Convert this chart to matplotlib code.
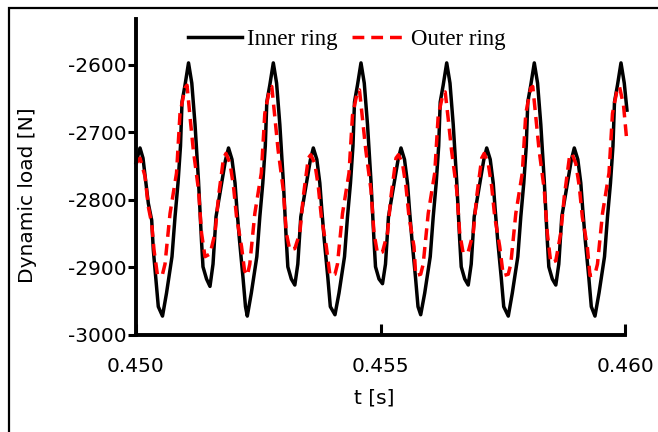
import matplotlib
matplotlib.use("Agg")
import matplotlib.pyplot as plt
from matplotlib.patches import Rectangle

plt.rcParams["font.family"] = "DejaVu Sans"
plt.rcParams["axes.unicode_minus"] = False

# Time stamps in ms after t = 0.450 s, and dynamic load in N
inner_ms = [
    0.000, 0.082, 0.143, 0.204, 0.252, 0.321, 0.354, 0.409, 0.456,
    0.542, 0.624, 0.736, 0.798, 0.859, 0.910, 0.941, 1.002, 1.074, 1.141, 1.207, 1.278, 1.339, 1.370,
    1.442, 1.513, 1.575, 1.636, 1.728, 1.830, 1.892, 1.963, 2.025, 2.065, 2.117, 2.188, 2.239,
    2.276, 2.358, 2.471, 2.532, 2.593, 2.644, 2.675, 2.736, 2.808, 2.875, 2.941, 3.012, 3.074, 3.105,
    3.176, 3.248, 3.309, 3.370, 3.462, 3.565, 3.626, 3.698, 3.759, 3.800, 3.851, 3.923, 3.974,
    4.069, 4.151, 4.264, 4.325, 4.386, 4.437, 4.468, 4.529, 4.601, 4.668, 4.734, 4.805, 4.867, 4.898,
    4.969, 5.041, 5.102, 5.163, 5.255, 5.358, 5.419, 5.491, 5.552, 5.593, 5.644, 5.716, 5.767,
    5.822, 5.904, 6.017, 6.078, 6.139, 6.190, 6.221, 6.282, 6.354, 6.421, 6.487, 6.558, 6.620, 6.651,
    6.722, 6.794, 6.855, 6.916, 7.008, 7.111, 7.172, 7.244, 7.305, 7.346, 7.397, 7.469, 7.520,
    7.613, 7.695, 7.808, 7.869, 7.930, 7.981, 8.012, 8.073, 8.145, 8.212, 8.278, 8.349, 8.411, 8.442,
    8.513, 8.585, 8.646, 8.707, 8.799, 8.902, 8.963, 9.035, 9.096, 9.137, 9.188, 9.260, 9.311,
    9.386, 9.468, 9.581, 9.642, 9.703, 9.754, 9.785, 9.846, 9.918, 9.985, 10.040,
]
inner_load = [
    -2745, -2723, -2738, -2775, -2805, -2830, -2874, -2919, -2958,
    -2972, -2938, -2884, -2825, -2775, -2720, -2655, -2630, -2597, -2627, -2688, -2772, -2860, -2899,
    -2917, -2928, -2895, -2825, -2785, -2741, -2723, -2740, -2775, -2815, -2860, -2915, -2958,
    -2972, -2938, -2884, -2825, -2775, -2720, -2655, -2630, -2597, -2627, -2688, -2772, -2860, -2899,
    -2917, -2926, -2895, -2825, -2785, -2741, -2723, -2740, -2775, -2815, -2860, -2915, -2958,
    -2970, -2938, -2884, -2825, -2775, -2720, -2655, -2630, -2597, -2627, -2688, -2772, -2860, -2899,
    -2917, -2924, -2895, -2825, -2785, -2741, -2723, -2740, -2775, -2815, -2860, -2915, -2958,
    -2970, -2938, -2884, -2825, -2775, -2720, -2655, -2630, -2597, -2627, -2688, -2772, -2860, -2899,
    -2917, -2926, -2895, -2825, -2785, -2741, -2723, -2740, -2775, -2815, -2860, -2915, -2958,
    -2972, -2938, -2884, -2825, -2775, -2720, -2655, -2630, -2597, -2627, -2688, -2772, -2860, -2899,
    -2917, -2926, -2895, -2825, -2785, -2741, -2723, -2740, -2775, -2815, -2860, -2915, -2958,
    -2972, -2938, -2884, -2825, -2775, -2720, -2655, -2630, -2597, -2627, -2667,
]

outer_ms = [
    0.000, 0.082, 0.184, 0.252, 0.321, 0.368,
    0.440, 0.542, 0.593, 0.696, 0.829, 0.900, 1.002, 1.043, 1.105, 1.172, 1.278,
    1.340, 1.411, 1.514, 1.616, 1.687, 1.790, 1.841, 1.923, 1.994, 2.056, 2.158,
    2.220, 2.276, 2.327, 2.430, 2.563, 2.634, 2.736, 2.777, 2.839, 2.906, 3.012,
    3.074, 3.145, 3.248, 3.350, 3.421, 3.524, 3.575, 3.657, 3.728, 3.790, 3.892,
    3.967, 4.069, 4.120, 4.223, 4.356, 4.427, 4.529, 4.570, 4.632, 4.699, 4.805,
    4.867, 4.938, 5.041, 5.143, 5.214, 5.317, 5.368, 5.450, 5.521, 5.583, 5.685,
    5.720, 5.822, 5.873, 5.976, 6.109, 6.180, 6.282, 6.323, 6.385, 6.452, 6.558,
    6.620, 6.691, 6.794, 6.896, 6.967, 7.070, 7.121, 7.203, 7.274, 7.336, 7.438,
    7.511, 7.613, 7.664, 7.767, 7.900, 7.971, 8.073, 8.114, 8.176, 8.243, 8.349,
    8.411, 8.482, 8.585, 8.687, 8.758, 8.861, 8.912, 8.994, 9.065, 9.127, 9.229,
    9.284, 9.386, 9.437, 9.540, 9.673, 9.744, 9.846, 9.887, 9.970, 10.040,
]
outer_load = [
    -2746, -2738, -2765, -2810, -2835, -2874,
    -2912, -2910, -2895, -2820, -2760, -2672, -2634, -2630, -2677, -2726, -2785,
    -2849, -2884, -2880, -2849, -2795, -2738, -2731, -2746, -2780, -2825, -2869,
    -2905, -2912, -2895, -2820, -2760, -2672, -2634, -2632, -2677, -2726, -2785,
    -2849, -2874, -2872, -2849, -2795, -2738, -2733, -2746, -2780, -2825, -2869,
    -2912, -2910, -2895, -2820, -2760, -2675, -2639, -2637, -2680, -2726, -2785,
    -2849, -2879, -2877, -2849, -2795, -2738, -2733, -2746, -2780, -2825, -2869,
    -2912, -2910, -2895, -2820, -2760, -2675, -2642, -2640, -2680, -2726, -2785,
    -2849, -2879, -2877, -2849, -2795, -2738, -2731, -2746, -2780, -2825, -2869,
    -2912, -2910, -2895, -2820, -2760, -2672, -2634, -2632, -2677, -2726, -2785,
    -2849, -2893, -2890, -2849, -2795, -2738, -2731, -2746, -2780, -2825, -2869,
    -2912, -2910, -2895, -2820, -2760, -2672, -2634, -2632, -2660, -2715,
]

x_ticks = [0.450, 0.455, 0.460]
y_ticks = [-3000, -2900, -2800, -2700, -2600]

t_inner = [0.450 + v * 1e-3 for v in inner_ms]
t_outer = [0.450 + v * 1e-3 for v in outer_ms]

fig = plt.figure(figsize=(6.58, 4.32), dpi=100)
ax = fig.add_axes([136 / 658, 1 - 335 / 432, (625 - 136) / 658, (335 - 19) / 432])

ax.plot(t_inner, inner_load, color="black", lw=2.5, label="Inner ring", clip_on=False)
ax.plot(t_outer, outer_load, color="red", lw=2.5, ls=(0, (3.4, 2.0)), label="Outer ring", clip_on=False)

ax.set_xlim(0.450, 0.460)
ax.set_ylim(-3000, -2532)

for side in ("top", "right"):
    ax.spines[side].set_visible(False)
for side in ("left", "bottom"):
    ax.spines[side].set_linewidth(2.8)

ax.set_xticks(x_ticks)
ax.set_xticklabels([f"{v:.3f}" for v in x_ticks])
ax.set_yticks(y_ticks)
ax.set_yticklabels([str(v) for v in y_ticks])
ax.tick_params(axis="y", direction="out", length=6, width=2.2, pad=0.5, labelsize=14.5)
ax.tick_params(axis="x", direction="in", length=8, width=2.2, pad=16, labelsize=14.5)

ax.set_xlabel("t [s]", fontsize=14.5)
ax.xaxis.set_label_coords(0.487, -0.17)
ax.set_ylabel("Dynamic load [N]", fontsize=14.5)
ax.yaxis.set_label_coords(-0.202, 0.443)

ax.legend(loc="center left", bbox_to_anchor=(0.106, 0.934), frameon=False, ncol=2,
          prop={"family": "Liberation Serif", "size": 16.5},
          handlelength=2.36, handletextpad=0.2, columnspacing=0.65,
          borderpad=0, borderaxespad=0)

fig.add_artist(Rectangle((8.5 / 658, -0.1), 1.2, 1.1 - 8 / 432,
                         transform=fig.transFigure, fill=False, lw=1.6, edgecolor="black"))

fig.savefig("out.png", dpi=100)
